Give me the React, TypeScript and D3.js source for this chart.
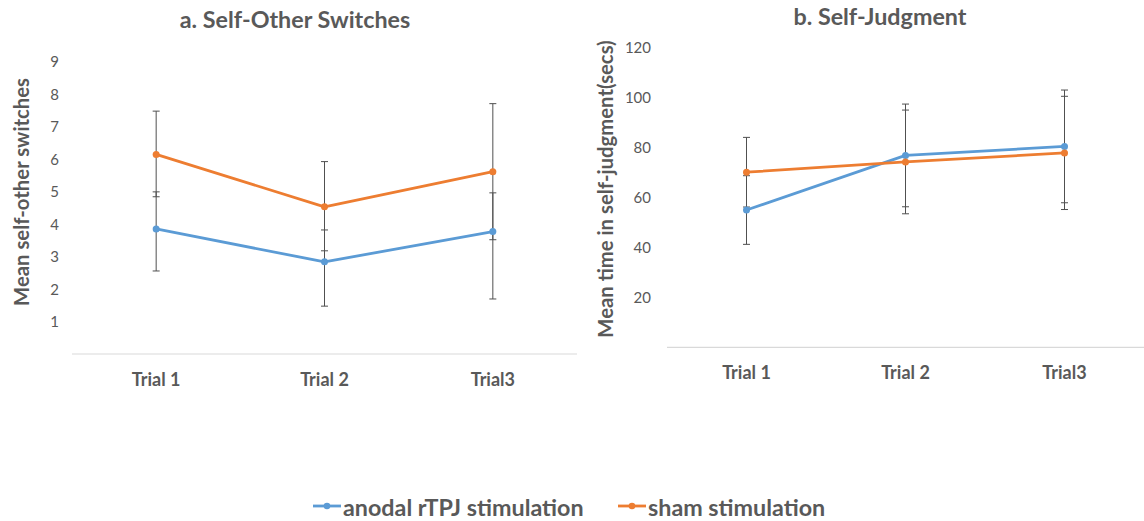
import React from "react";
import * as d3 from "d3";

const categories = ["Trial 1", "Trial 2", "Trial3"];
const seriesNames = ["anodal rTPJ stimulation", "sham stimulation"];
const seriesColors = ["#5B9BD5", "#ED7D31"];

// Panel a: Self-Other Switches
const switchesAnodal = [3.84, 2.83, 3.76];
const switchesAnodalHi = [4.98, 3.81, 4.95];
const switchesAnodalLo = [2.55, 1.47, 1.69];
const switchesSham = [6.13, 4.52, 5.6];
const switchesShamHi = [7.46, 5.91, 7.69];
const switchesShamLo = [4.83, 3.17, 3.51];
const switchesTicks = [1, 2, 3, 4, 5, 6, 7, 8, 9];

// Panel b: Self-Judgment
const judgmentAnodal = [54.8, 76.6, 80.2];
const judgmentAnodalErr = [13.7, 20.5, 22.5];
const judgmentSham = [69.9, 74.0, 77.6];
const judgmentShamErr = [13.9, 20.7, 22.6];
const judgmentTicks = [20, 40, 60, 80, 100, 120];

const TEXT = "#595959";
const FONT = "Lato, 'Open Sans', sans-serif";

type Series = { mean: number[]; hi: number[]; lo: number[]; color: string };

function Panel(props: {
  x0: number; x1: number; yBottom: number; yTop: number; yMax: number; axisEnd: number;
  ticks: number[]; tickX: number; title: string; titleX: number; titleY: number;
  yLabel: string; yLabelX: number; yLabelY: number; catLabelY: number; series: Series[];
}) {
  const x = d3.scaleBand<string>().domain(categories).range([props.x0, props.x1]).padding(0);
  const cx = (c: string) => (x(c) as number) + x.bandwidth() / 2;
  const y = d3.scaleLinear().domain([0, props.yMax]).range([props.yBottom, props.yTop]);
  const line = d3.line<number>().x((_, i) => cx(categories[i])).y((d) => y(d));
  return (
    <g fontFamily={FONT}>
      <text x={props.titleX} y={props.titleY} textAnchor="middle" fontWeight="bold" fontSize={23.3} fill={TEXT}>{props.title}</text>
      <text transform={`translate(${props.yLabelX},${props.yLabelY}) rotate(-90)`} textAnchor="middle" dominantBaseline="central" fontWeight="bold" fontSize={20.3} fill={TEXT}>{props.yLabel}</text>
      {props.ticks.map((t) => (
        <text key={t} x={props.tickX} y={y(t)} textAnchor="end" dominantBaseline="central" fontSize={15} fill={TEXT}>{t}</text>
      ))}
      <line x1={props.x0} x2={props.axisEnd} y1={y(0)} y2={y(0)} stroke="#D9D9D9" strokeWidth={1.2} />
      {categories.map((c) => (
        <text key={c} x={cx(c)} y={props.catLabelY} textAnchor="middle" dominantBaseline="central" fontWeight="bold" fontSize={18} fill={TEXT}>{c}</text>
      ))}
      {props.series.map((s, si) => (
        <g key={"e" + si}>
          {categories.map((c, i) => (
            <g key={c} stroke="#505050" strokeWidth={1}>
              <line x1={cx(c)} x2={cx(c)} y1={y(s.hi[i])} y2={y(s.lo[i])} />
              <line x1={cx(c) - 3.5} x2={cx(c) + 3.5} y1={y(s.hi[i])} y2={y(s.hi[i])} />
              <line x1={cx(c) - 3.5} x2={cx(c) + 3.5} y1={y(s.lo[i])} y2={y(s.lo[i])} />
            </g>
          ))}
        </g>
      ))}
      {props.series.map((s, si) => (
        <g key={"s" + si}>
          <path d={line(s.mean) as string} fill="none" stroke={s.color} strokeWidth={2.8} strokeLinejoin="round" />
          {s.mean.map((v, i) => (
            <circle key={i} cx={cx(categories[i])} cy={y(v)} r={3.5} fill={s.color} />
          ))}
        </g>
      ))}
    </g>
  );
}

export default function App() {
  const panelA: Series[] = [
    { mean: switchesAnodal, hi: switchesAnodalHi, lo: switchesAnodalLo, color: seriesColors[0] },
    { mean: switchesSham, hi: switchesShamHi, lo: switchesShamLo, color: seriesColors[1] },
  ];
  const panelB: Series[] = [
    { mean: judgmentAnodal, hi: judgmentAnodal.map((v, i) => v + judgmentAnodalErr[i]), lo: judgmentAnodal.map((v, i) => v - judgmentAnodalErr[i]), color: seriesColors[0] },
    { mean: judgmentSham, hi: judgmentSham.map((v, i) => v + judgmentShamErr[i]), lo: judgmentSham.map((v, i) => v - judgmentShamErr[i]), color: seriesColors[1] },
  ];
  const legend = [
    { name: seriesNames[0], color: seriesColors[0], x: 313 },
    { name: seriesNames[1], color: seriesColors[1], x: 618 },
  ];
  return (
    <svg width={1144} height={521} style={{ position: "absolute", left: 0, top: 0, background: "#fff" }}>
      <rect width={1144} height={521} fill="#fff" />
      <Panel x0={72} x1={577} axisEnd={577} yBottom={354} yTop={61} yMax={9} ticks={switchesTicks} tickX={59}
        title="a. Self-Other Switches" titleX={295} titleY={28} yLabel="Mean self-other switches" yLabelX={21} yLabelY={192}
        catLabelY={379} series={panelA} />
      <Panel x0={667} x1={1144} axisEnd={1144} yBottom={347.3} yTop={46.7} yMax={120} ticks={judgmentTicks} tickX={651}
        title="b. Self-Judgment" titleX={880} titleY={25} yLabel="Mean time in self-judgment(secs)" yLabelX={605} yLabelY={189}
        catLabelY={372} series={panelB} />
      <g fontFamily={FONT}>
        {legend.map((l) => (
          <g key={l.name}>
            <line x1={l.x} x2={l.x + 28} y1={506} y2={506} stroke={l.color} strokeWidth={2.8} />
            <circle cx={l.x + 14} cy={506} r={3.3} fill={l.color} />
            <text x={l.x + 30} y={516} fontWeight="bold" fontSize={23.3} fill={TEXT}>{l.name}</text>
          </g>
        ))}
      </g>
    </svg>
  );
}
